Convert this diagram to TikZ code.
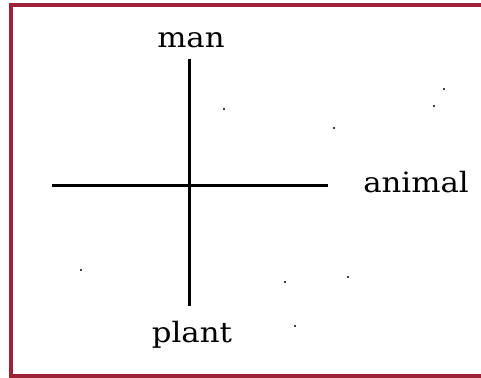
\documentclass[tikz,border=0pt]{standalone}
\usepackage{fontspec}
\setmainfont{DejaVu Serif}
\definecolor{frame}{HTML}{9B2335}
\tikzset{
  lbl/.style={anchor=base, inner sep=0pt, font=\fontsize{28}{30}\selectfont, xscale=1.1},
  axis/.style={line width=3.5pt, black},
  speck/.style={fill=black, circle, inner sep=0pt, minimum size=2.2pt}
}
\begin{document}
\begin{tikzpicture}[x=1pt, y=-1pt]
\useasboundingbox (0,0) rectangle (481,377);
\draw[frame, line width=4pt] (10.5,5.2) -- (10.5,375.5) -- (490,375.5);
\draw[frame, line width=4pt] (8.5,5.2) -- (490,5.2);
\coordinate (top) at (189.5,59);
\coordinate (bot) at (189.5,306);
\coordinate (lft) at (52,185.5);
\coordinate (rgt) at (328,185.5);
\draw[axis] (top) -- (bot);
\draw[axis] (lft) -- (rgt);
\node[lbl] (man) at (191,48) {man};
\node[lbl] (animal) at (416,192) {animal};
\node[lbl] (plant) at (192,342) {plant};
\foreach \p [count=\i] in {(224,109),(334,128),(434,106),(444,89),(81,270),(285,282),(348,277),(295,326)}
  \node[speck] (s\i) at \p {};
\end{tikzpicture}
\end{document}
